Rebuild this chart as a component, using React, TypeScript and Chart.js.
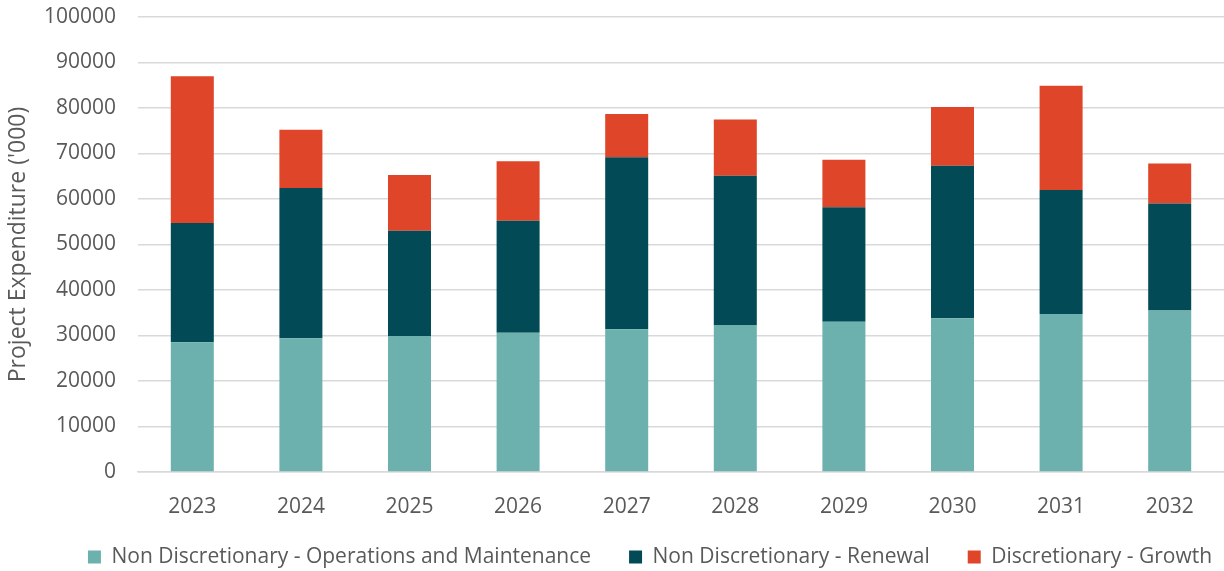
import React, { useEffect, useRef } from "react";
import { Chart, registerables } from "chart.js";

Chart.register(...registerables);

const categories = ["2023", "2024", "2025", "2026", "2027", "2028", "2029", "2030", "2031", "2032"];
const operationsMaintenance = [28500, 29400, 29900, 30600, 31400, 32200, 33000, 33800, 34700, 35500];
const renewal = [26200, 33000, 23100, 24600, 37800, 32900, 25200, 33500, 27300, 23500];
const growth = [32300, 12800, 12300, 13100, 9500, 12400, 10400, 12900, 22900, 8800];
const yTicks = [0, 10000, 20000, 30000, 40000, 50000, 60000, 70000, 80000, 90000, 100000];

const seriesNames = [
  "Non Discretionary - Operations and Maintenance",
  "Non Discretionary - Renewal",
  "Discretionary - Growth",
];
const seriesColors = ["#6DB1AE", "#024B56", "#DF4529"];

const FONT = "'Open Sans', sans-serif";
const TEXT = "#595959";
const LEGEND_PAD = 38;

const legendPlacement = {
  id: "legendPlacement",
  beforeInit(chart: any) {
    const legend = chart.legend;
    if (!legend) return;
    const origFit = legend.fit;
    legend.fit = function () {
      origFit.call(this);
      this.height = 52;
    };
  },
  afterLayout(chart: any) {
    const legend = chart.legend;
    if (!legend) return;
    legend.top = 546.5 - LEGEND_PAD;
    legend.bottom = chart.height;
    legend.left += 38;
    legend.right += 38;
  },
};

export default function App() {
  const ref = useRef<HTMLCanvasElement>(null);

  useEffect(() => {
    document.body.style.margin = "0";
    const ctx = ref.current!.getContext("2d")!;
    const chart = new Chart(ctx, {
      type: "bar",
      data: {
        labels: categories,
        datasets: [operationsMaintenance, renewal, growth].map((d, i) => ({
          label: seriesNames[i],
          data: d,
          backgroundColor: seriesColors[i],
          borderWidth: 0,
          categoryPercentage: 1,
          barPercentage: 0.396,
        })),
      },
      plugins: [legendPlacement],
      options: {
        animation: false,
        responsive: false,
        maintainAspectRatio: false,
        layout: { padding: { top: 0, right: 0, left: 0, bottom: 0 } },
        plugins: {
          tooltip: { enabled: false },
          legend: {
            position: "bottom",
            labels: {
              boxWidth: 13,
              boxHeight: 13,
              padding: LEGEND_PAD,
              color: TEXT,
              font: { family: FONT, size: 21 },
            },
          },
        },
        scales: {
          x: {
            stacked: true,
            grid: { display: false, drawTicks: false },
            border: { display: true, color: "#D9D9D9", width: 1.5 },
            ticks: { color: TEXT, font: { family: FONT, size: 21 }, padding: 22 },
            afterFit: (axis: any) => {
              axis.height = 47;
              axis.paddingTop = 0;
              axis.paddingBottom = 0;
            },
          },
          y: {
            stacked: true,
            min: 0,
            max: 100000,
            afterBuildTicks: (axis: any) => {
              axis.ticks = yTicks.map((v) => ({ value: v }));
            },
            grid: { color: "#D9D9D9", lineWidth: 1.5, drawTicks: false },
            border: { display: false },
            ticks: {
              color: TEXT,
              font: { family: FONT, size: 21 },
              padding: 22,
              callback: (v: any) => String(v),
            },
            title: {
              display: true,
              text: "Project Expenditure ('000)",
              color: TEXT,
              font: { family: FONT, size: 23 },
              padding: { top: 5, bottom: 0 },
            },
            afterFit: (axis: any) => {
              axis.width = 138;
              axis.paddingTop = 17;
              axis.paddingBottom = 0;
            },
          },
        },
      },
    });
    return () => chart.destroy();
  }, []);

  return (
    <div style={{ width: 1224, height: 571 }}>
      <canvas ref={ref} width={1224} height={571} style={{ display: "block" }} />
    </div>
  );
}
